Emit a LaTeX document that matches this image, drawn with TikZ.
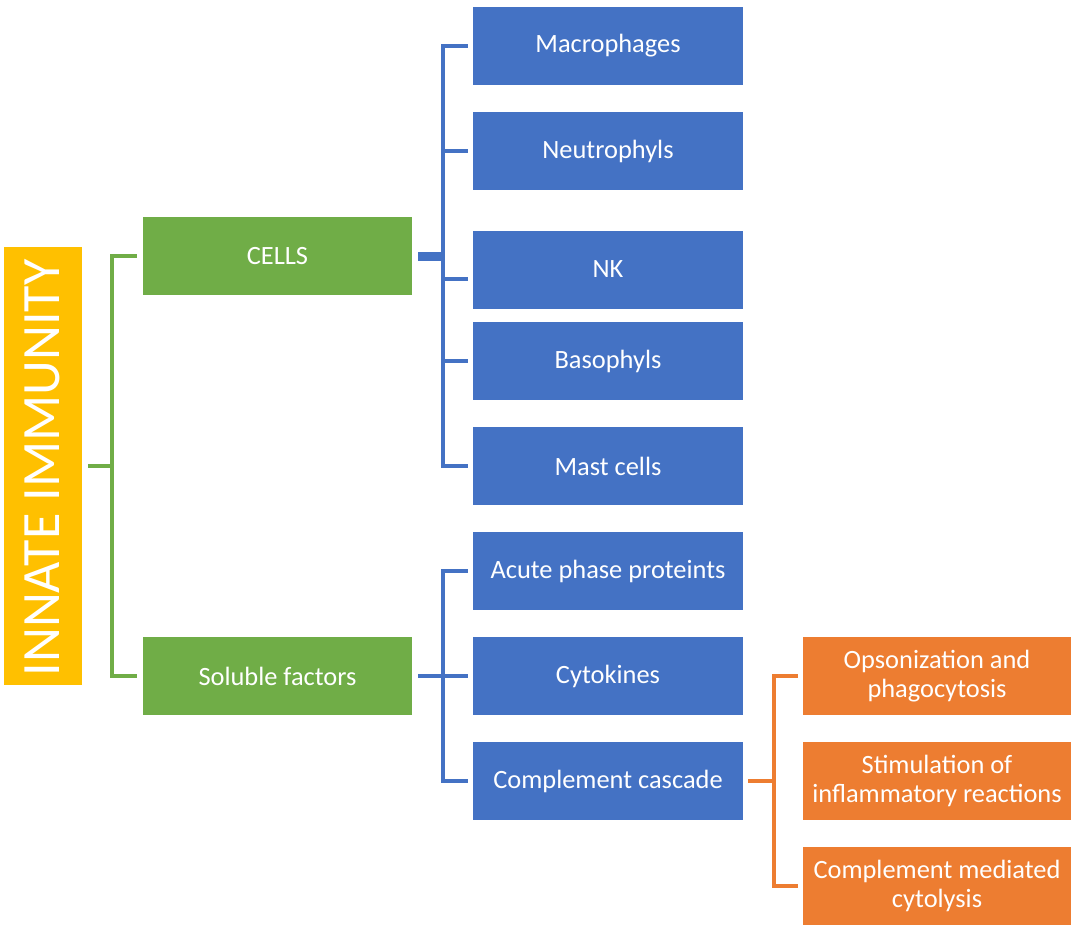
\documentclass[tikz,border=0pt]{standalone}
\usepackage{fontspec}
\setmainfont{Carlito}
\definecolor{cblue}{HTML}{4472C4}
\definecolor{cgreen}{HTML}{70AD47}
\definecolor{corange}{HTML}{ED7D31}
\definecolor{cyellow}{HTML}{FFC000}
\begin{document}
\begin{tikzpicture}[x=1pt,y=-1pt,
  box/.style={rectangle, inner sep=0pt, text=white, align=center,
    font=\fontsize{26.4}{29}\selectfont},
  gbox/.style={box, fill=cgreen, minimum width=269pt, minimum height=78pt},
  bbox/.style={box, fill=cblue, minimum width=270pt, minimum height=78pt},
  obox/.style={box, fill=corange, minimum width=268pt, minimum height=78pt},
  gline/.style={draw=cgreen, line width=4.5pt},
  bline/.style={draw=cblue, line width=4.5pt},
  oline/.style={draw=corange, line width=4.5pt}]
\useasboundingbox (0,0) rectangle (1071,924);
% root
\node[box, fill=cyellow, minimum width=78.5pt, minimum height=438pt] (innate) at (42.75,466) {};
\node[text=white, rotate=90, inner sep=0pt, font=\fontsize{54}{60}\selectfont] (innatetxt) at (42,468) {INNATE IMMUNITY};
% level 1
\node[gbox] (cells) at (277.5,256) {CELLS};
\node[gbox] (soluble) at (277.5,676) {Soluble factors};
% level 2
\node[bbox] (mac) at (608,46) {Macrophages};
\node[bbox] (neu) at (608,151) {Neutrophyls};
\node[bbox] (nk) at (608,269.5) {NK};
\node[bbox] (baso) at (608,361) {Basophyls};
\node[bbox] (mast) at (608,466) {Mast cells};
\node[bbox] (acute) at (608,571) {Acute phase proteints};
\node[bbox] (cyto) at (608,676) {Cytokines};
\node[bbox] (compl) at (608,781) {Complement cascade};
% level 3
\node[obox] (opso) at (937,676) {Opsonization and\\phagocytosis};
\node[obox] (stim) at (937,781) {Stimulation of\\inflammatory reactions};
\node[obox] (cyto2) at (937,886) {Complement mediated\\cytolysis};
% green bracket
\draw[gline] ([xshift=6pt]innate.east) -- ++(24,0);
\draw[gline] ([xshift=-6pt]cells.west) -- ++(-25,0) |- ([xshift=-6pt]soluble.west);
% blue bracket (cells)
\draw[bline, line width=9pt] ([xshift=6pt]cells.east) -- ++(25,0);
\draw[bline] ([xshift=-5pt]mac.west) -- ++(-25,0) |- ([xshift=-5pt]mast.west);
\draw[bline] ([xshift=-5pt]neu.west) -- ++(-25,0);
\draw[bline] ([xshift=-5pt,yshift=-9.5pt]nk.west) -- ++(-25,0);
\draw[bline] ([xshift=-5pt]baso.west) -- ++(-25,0);
% blue bracket (soluble)
\draw[bline] ([xshift=-5pt]acute.west) -- ++(-25,0) |- ([xshift=-5pt]compl.west);
\draw[bline] ([xshift=6pt]soluble.east) -- ([xshift=-5pt]cyto.west);
% orange bracket
\draw[oline] ([xshift=-5pt]opso.west) -- ++(-24,0) |- ([xshift=-5pt]cyto2.west);
\draw[oline] ([xshift=5pt]compl.east) -- ++(26,0);
\end{tikzpicture}
\end{document}
